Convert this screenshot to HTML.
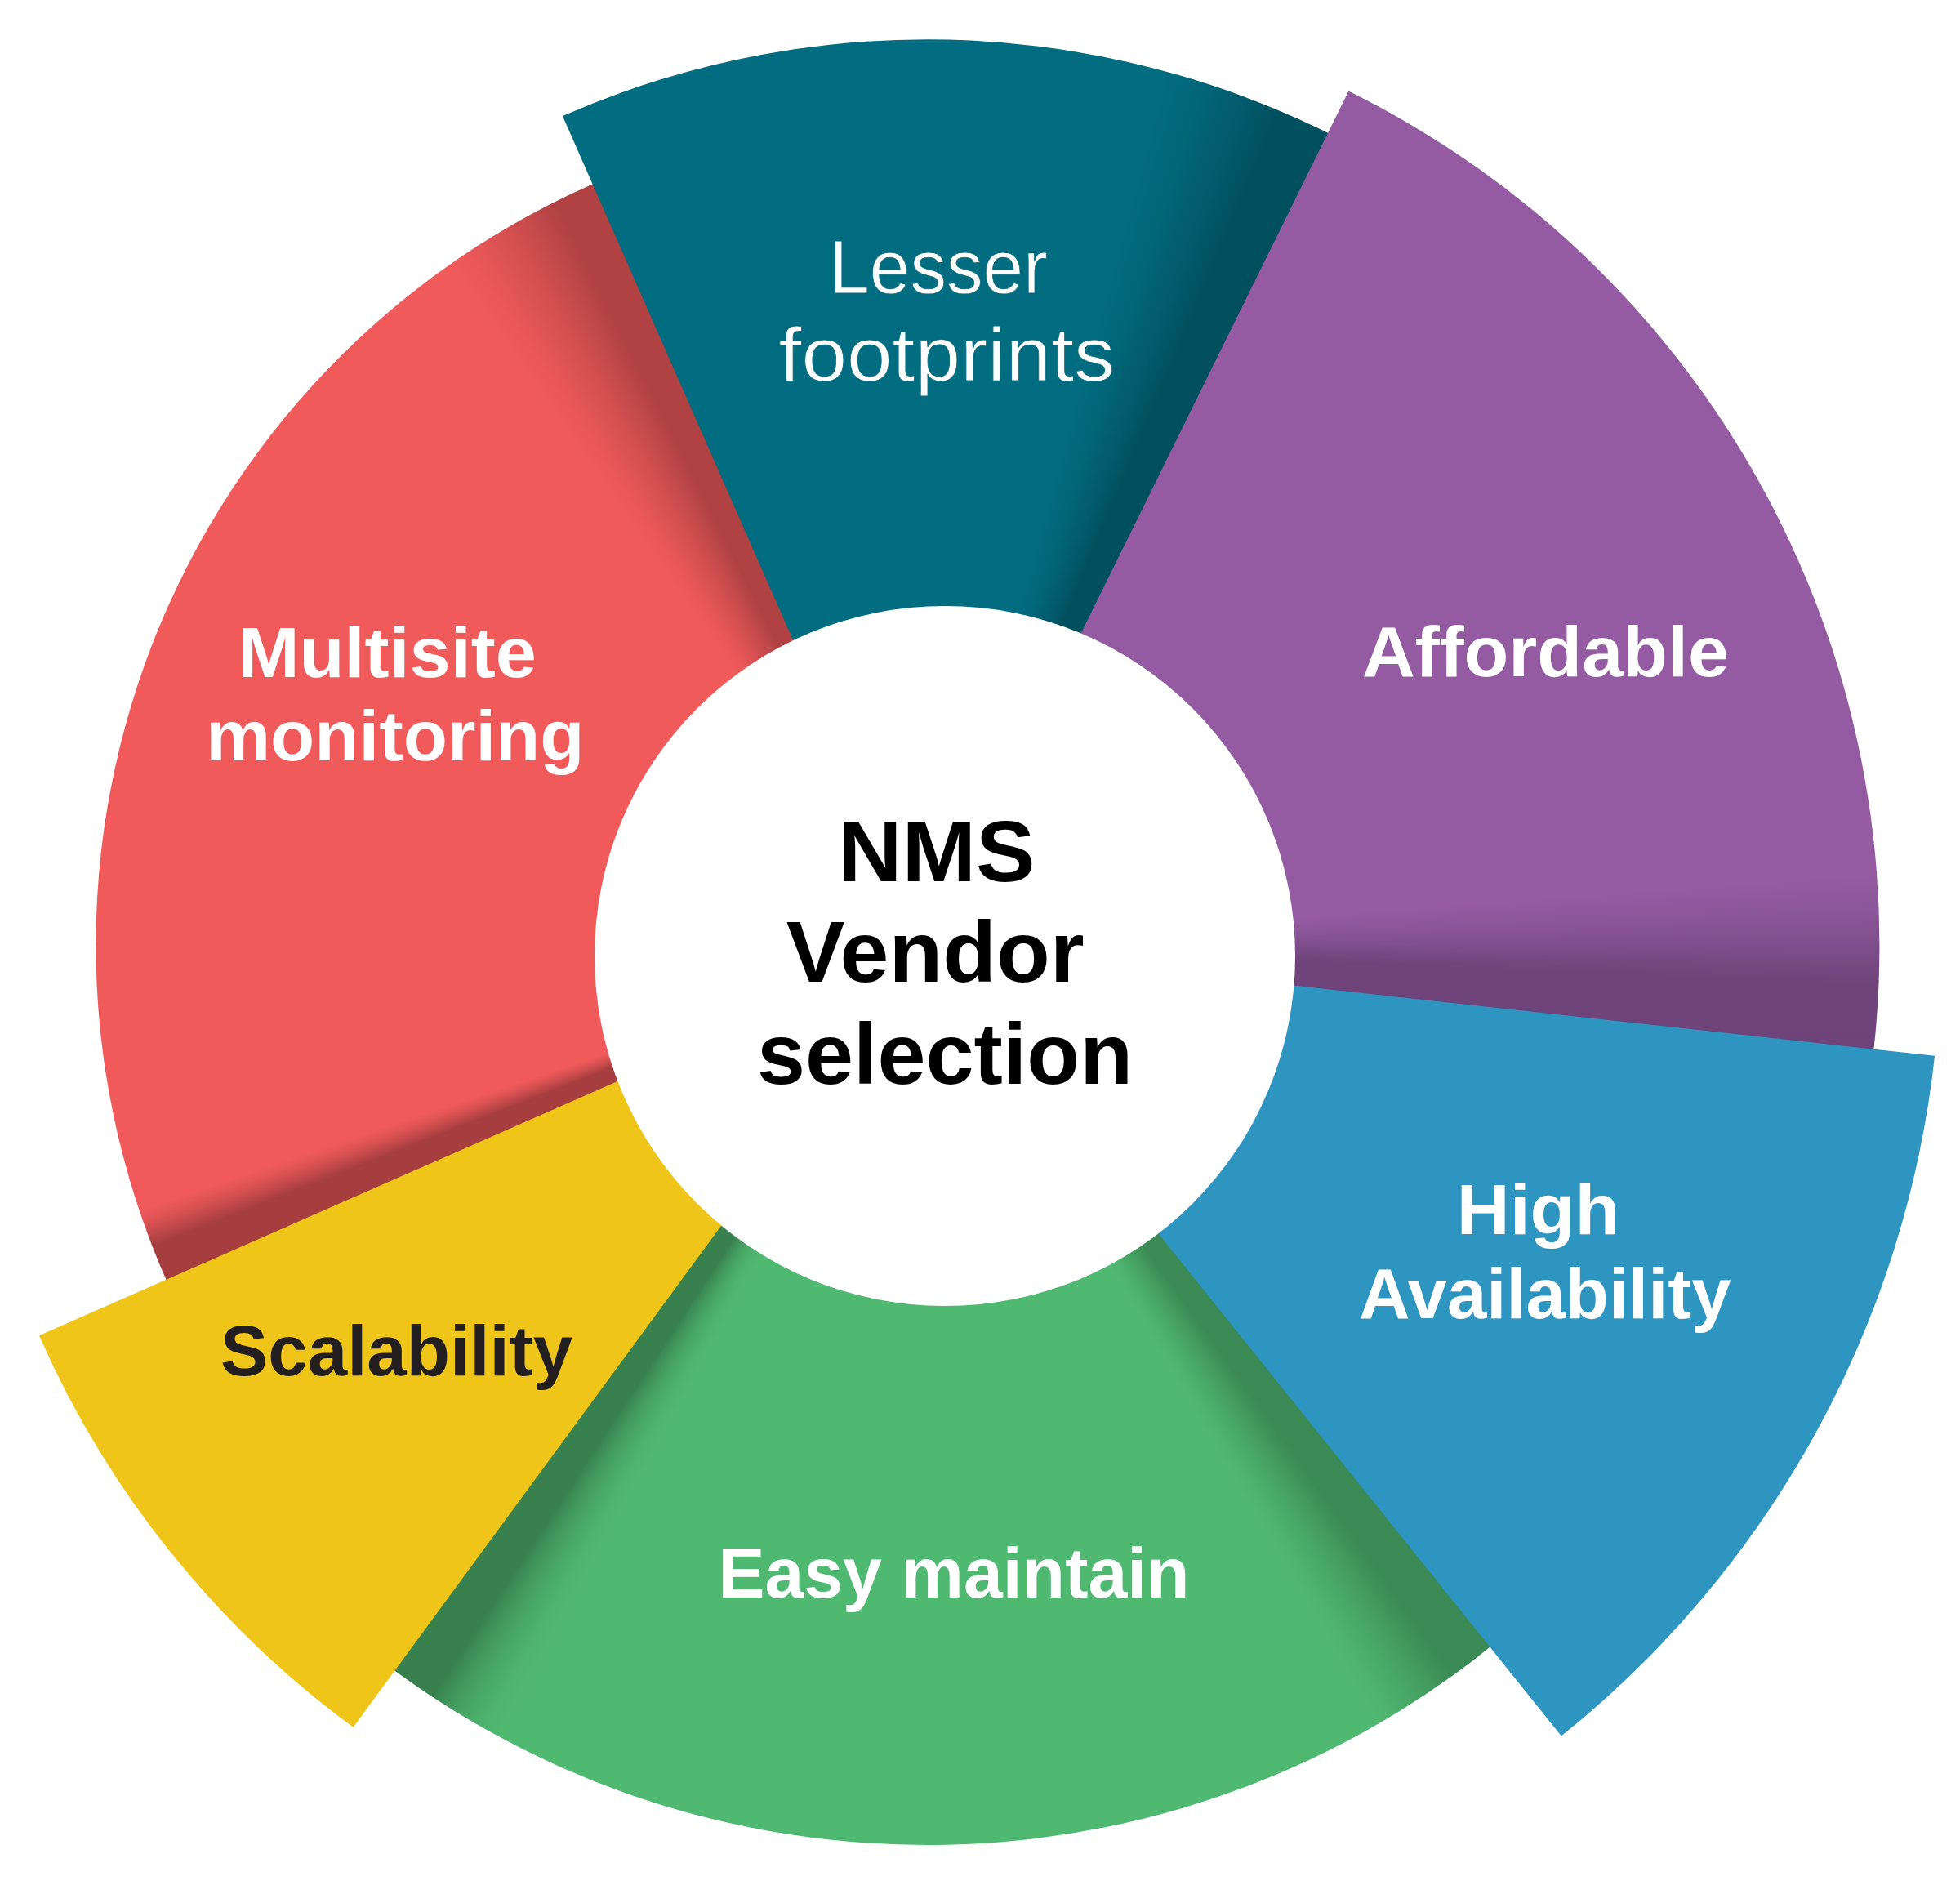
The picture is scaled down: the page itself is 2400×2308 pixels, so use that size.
<!DOCTYPE html>
<html><head><meta charset="utf-8"><title>NMS Vendor selection</title>
<style>
html,body{margin:0;padding:0;background:#fff;}
body{width:2400px;height:2308px;position:relative;overflow:hidden;font-family:"Liberation Sans",sans-serif;}
.seg{position:absolute;left:0;top:0;width:2400px;height:2308px;}
.hole{position:absolute;border-radius:50%;background:#fff;}
svg{position:absolute;left:0;top:0;}
text{font-family:"Liberation Sans",sans-serif;}
.b{font-weight:bold;}
</style></head><body>
<div class="seg" style="clip-path:path('M1135.21 1157.28L226.18 1615.07A1017.80 1017.80 0 0 1 774.94 205.37Z');background:conic-gradient(from -35.23deg at 1135.21px 1157.28px, rgba(0,0,0,0.0000) 0.00deg, rgba(0,0,0,0.0106) 0.87deg, rgba(0,0,0,0.0281) 1.74deg, rgba(0,0,0,0.0495) 2.61deg, rgba(0,0,0,0.0740) 3.48deg, rgba(0,0,0,0.1012) 4.35deg, rgba(0,0,0,0.1306) 5.22deg, rgba(0,0,0,0.1620) 6.09deg, rgba(0,0,0,0.1954) 6.96deg, rgba(0,0,0,0.2304) 7.83deg, rgba(0,0,0,0.2670) 8.70deg, rgba(0,0,0,0.2670) 13.00deg, rgba(0,0,0,0.0000) 13.00deg, rgba(0,0,0,0) 360deg), conic-gradient(from 244.77deg at 1135.21px 1157.28px, rgba(0,0,0,0.3100) 0.00deg, rgba(0,0,0,0.3100) 4.00deg, rgba(0,0,0,0.2703) 4.27deg, rgba(0,0,0,0.2319) 4.54deg, rgba(0,0,0,0.1950) 4.81deg, rgba(0,0,0,0.1596) 5.08deg, rgba(0,0,0,0.1259) 5.35deg, rgba(0,0,0,0.0942) 5.62deg, rgba(0,0,0,0.0648) 5.89deg, rgba(0,0,0,0.0383) 6.16deg, rgba(0,0,0,0.0155) 6.43deg, rgba(0,0,0,0.0000) 6.70deg, rgba(0,0,0,0) 360deg), #f05a5b;"></div>
<div class="seg" style="clip-path:path('M1135.21 1157.28L1868.59 1979.54A1101.80 1101.80 0 0 1 437.80 2010.26Z');background:conic-gradient(from 139.77deg at 1135.21px 1157.28px, rgba(0,0,0,0.2600) 0.00deg, rgba(0,0,0,0.2600) 4.40deg, rgba(0,0,0,0.2243) 5.03deg, rgba(0,0,0,0.1902) 5.66deg, rgba(0,0,0,0.1578) 6.29deg, rgba(0,0,0,0.1272) 6.92deg, rgba(0,0,0,0.0985) 7.55deg, rgba(0,0,0,0.0721) 8.18deg, rgba(0,0,0,0.0482) 8.81deg, rgba(0,0,0,0.0273) 9.44deg, rgba(0,0,0,0.0104) 10.07deg, rgba(0,0,0,0.0000) 10.70deg, rgba(0,0,0,0) 360deg), conic-gradient(from 207.17deg at 1135.21px 1157.28px, rgba(0,0,0,0.0000) 0.00deg, rgba(0,0,0,0.0015) 0.62deg, rgba(0,0,0,0.0074) 1.24deg, rgba(0,0,0,0.0188) 1.86deg, rgba(0,0,0,0.0365) 2.48deg, rgba(0,0,0,0.0609) 3.10deg, rgba(0,0,0,0.0927) 3.72deg, rgba(0,0,0,0.1321) 4.34deg, rgba(0,0,0,0.1796) 4.96deg, rgba(0,0,0,0.2354) 5.58deg, rgba(0,0,0,0.3000) 6.20deg, rgba(0,0,0,0.3000) 10.60deg, rgba(0,0,0,0.0000) 10.60deg, rgba(0,0,0,0) 360deg), #50b971;"></div>
<div class="seg" style="clip-path:path('M1135.21 1157.28L688.92 142.04A1109.00 1109.00 0 0 1 1677.43 189.87Z');background:conic-gradient(from 15.27deg at 1135.21px 1157.28px, rgba(0,0,0,0.0000) 0.00deg, rgba(0,0,0,0.0130) 0.76deg, rgba(0,0,0,0.0321) 1.52deg, rgba(0,0,0,0.0544) 2.28deg, rgba(0,0,0,0.0790) 3.04deg, rgba(0,0,0,0.1056) 3.80deg, rgba(0,0,0,0.1338) 4.56deg, rgba(0,0,0,0.1635) 5.32deg, rgba(0,0,0,0.1945) 6.08deg, rgba(0,0,0,0.2267) 6.84deg, rgba(0,0,0,0.2600) 7.60deg, rgba(0,0,0,0.2600) 12.50deg, rgba(0,0,0,0.0000) 12.50deg, rgba(0,0,0,0) 360deg), #026c80;"></div>
<div class="seg" style="clip-path:path('M1135.21 1157.28L1651.37 111.53A1166.20 1166.20 0 0 1 2286.18 1345.14Z');background:conic-gradient(from 85.47deg at 1135.21px 1157.28px, rgba(0,0,0,0.0000) 0.00deg, rgba(0,0,0,0.0104) 0.69deg, rgba(0,0,0,0.0273) 1.38deg, rgba(0,0,0,0.0482) 2.07deg, rgba(0,0,0,0.0721) 2.76deg, rgba(0,0,0,0.0985) 3.45deg, rgba(0,0,0,0.1272) 4.14deg, rgba(0,0,0,0.1578) 4.83deg, rgba(0,0,0,0.1902) 5.52deg, rgba(0,0,0,0.2243) 6.21deg, rgba(0,0,0,0.2600) 6.90deg, rgba(0,0,0,0.2600) 12.30deg, rgba(0,0,0,0.0000) 12.30deg, rgba(0,0,0,0) 360deg), #945ba3;"></div>
<div class="seg" style="clip-path:path('M1135.21 1157.28L2369.08 1292.85A1241.30 1241.30 0 0 1 1911.83 2125.62Z');background:#2e94c0;"></div>
<div class="seg" style="clip-path:path('M1135.21 1157.28L432.58 2114.85A1187.70 1187.70 0 0 1 47.93 1635.24Z');background:#efc519;"></div>
<div class="hole" style="left:728.25px;top:741.60px;width:857.60px;height:857.60px;"></div>
<svg width="2400" height="2308" viewBox="0 0 2400 2308">
<text stroke="#026c80" stroke-width="0.8" x="1015.3" y="359.2" font-size="93" fill="#fff" textLength="267.51" lengthAdjust="spacingAndGlyphs">Lesser</text>
<text stroke="#026c80" stroke-width="0.8" x="953.6" y="466.0" font-size="93" fill="#fff" textLength="411.38" lengthAdjust="spacingAndGlyphs">footprints</text>
<text class="b" x="291.4" y="828.9" font-size="88" fill="#fff" textLength="365.48" lengthAdjust="spacingAndGlyphs">Multisite</text>
<text class="b" x="252.2" y="930.9" font-size="88" fill="#fff" textLength="463.27" lengthAdjust="spacingAndGlyphs">monitoring</text>
<text class="b" x="1667.9" y="828.1" font-size="88" fill="#fff" textLength="448.92" lengthAdjust="spacingAndGlyphs">Affordable</text>
<text class="b" x="1026.0" y="1078.5" font-size="105" fill="#000" textLength="241.62" lengthAdjust="spacingAndGlyphs">NMS</text>
<text class="b" x="962.7" y="1202.4" font-size="105" fill="#000" textLength="364.84" lengthAdjust="spacingAndGlyphs">Vendor</text>
<text class="b" x="926.9" y="1326.5" font-size="105" fill="#000" textLength="460.09" lengthAdjust="spacingAndGlyphs">selection</text>
<text class="b" x="1783.8" y="1511" font-size="88" fill="#fff" textLength="199.55" lengthAdjust="spacingAndGlyphs">High</text>
<text class="b" x="1664.1" y="1613.7" font-size="88" fill="#fff" textLength="455.54" lengthAdjust="spacingAndGlyphs">Availability</text>
<text class="b" x="270.1" y="1683.7" font-size="88" fill="#231f20" textLength="431.12" lengthAdjust="spacingAndGlyphs">Scalability</text>
<text class="b" x="879.3" y="1956" font-size="88" fill="#fff" textLength="577.26" lengthAdjust="spacingAndGlyphs">Easy maintain</text>
</svg>
</body></html>
